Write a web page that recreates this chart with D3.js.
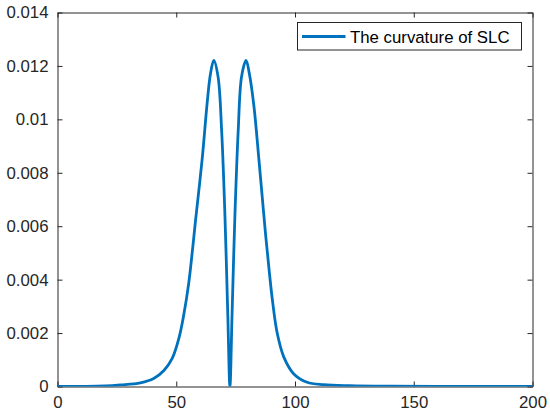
<!DOCTYPE html>
<html>
<head>
<meta charset="utf-8">
<script src="https://cdn.jsdelivr.net/npm/d3@7"></script>
<style>
  html, body { margin: 0; padding: 0; background: #ffffff; }
  svg { display: block; }
</style>
</head>
<body>
<svg id="chart" width="550" height="416"></svg>
<script>
// ---- data ----
const xValues = [0, 10, 20, 26.5, 34.9, 40.5, 44.8, 48.3, 51.1, 53.2, 55.3, 56.7, 58.1, 60.9, 63.0, 64.4, 65.8,
                 67.6, 69.1, 70.5, 71.7, 72.6, 73.5, 74.7, 76.1, 77.5, 79.4, 80.8, 82.7, 84.8, 86.2, 87.6,
                 89.0, 90.4, 92.5, 95.3, 99.5, 105.1, 112.1, 123, 140, 170, 200];
const curvature = [0.000002, 0.000005, 0.00002, 0.00006, 0.00014, 0.0003, 0.0006, 0.00105, 0.0018, 0.0027, 0.0039, 0.0050, 0.0062, 0.0085, 0.0106, 0.0117, 0.01221,
                   0.01160, 0.0096, 0.0064, 0.0027, 0, 0.0027, 0.0064, 0.0096, 0.01160, 0.01221, 0.0117, 0.0105, 0.0085, 0.0071, 0.0057,
                   0.00445, 0.0033, 0.0020, 0.0011, 0.00047, 0.00016, 0.00007, 0.00003, 0.00001, 0.000003, 0.000001];
const xTicks = [0, 50, 100, 150, 200];
const yTicks = [0, 0.002, 0.004, 0.006, 0.008, 0.01, 0.012, 0.014];
const yTickLabels = ["0", "0.002", "0.004", "0.006", "0.008", "0.01", "0.012", "0.014"];
const seriesName = "The curvature of SLC";

// ---- layout ----
const plotLeft = 57.5, plotRight = 532.5, plotTop = 12.5, plotBottom = 386.5;
const axisColor = "#262626";
const lineColor = "#0072BD";
const font = "'Liberation Sans', Arial, Helvetica, sans-serif";
const fontSize = 16.8;
const tickLen = 5;

const svg = d3.select("#chart");
const x = d3.scaleLinear().domain([0, 200]).range([plotLeft, plotRight]);
const y = d3.scaleLinear().domain([0, 0.014]).range([plotBottom, plotTop]);

const data = xValues.map((v, i) => ({ x: v, y: curvature[i] }));

svg.append("defs").append("clipPath").attr("id", "clip")
  .append("rect").attr("x", plotLeft).attr("y", plotTop - 3)
  .attr("width", plotRight - plotLeft).attr("height", plotBottom - plotTop + 3);

const bottomAxis = d3.axisBottom(x).tickValues(xTicks).tickSizeInner(-tickLen).tickSizeOuter(0).tickPadding(10).tickFormat(d3.format("d"));
const topAxis = d3.axisTop(x).tickValues(xTicks).tickSizeInner(-tickLen).tickSizeOuter(0).tickFormat("");
const leftAxis = d3.axisLeft(y).tickValues(yTicks).tickSizeInner(-tickLen).tickSizeOuter(0).tickPadding(9)
  .tickFormat((d, i) => yTickLabels[i]);
const rightAxis = d3.axisRight(y).tickValues(yTicks).tickSizeInner(-tickLen).tickSizeOuter(0).tickFormat("");

function style(g) {
  g.selectAll("path.domain").attr("stroke", axisColor).attr("stroke-width", 1);
  g.selectAll(".tick line").attr("stroke", axisColor).attr("stroke-width", 1);
  g.selectAll(".tick text").attr("fill", axisColor).style("font-family", font).style("font-size", fontSize + "px");
}

svg.append("g").attr("transform", `translate(0,${plotBottom})`).call(bottomAxis).call(style);
svg.append("g").attr("transform", `translate(0,${plotTop})`).call(topAxis).call(style);
svg.append("g").attr("transform", `translate(${plotLeft},0)`).call(leftAxis).call(style);
svg.append("g").attr("transform", `translate(${plotRight},0)`).call(rightAxis).call(style);

const line = d3.line().x(d => x(d.x)).y(d => y(d.y)).curve(d3.curveCatmullRom.alpha(0.5));
svg.append("path").datum(data)
  .attr("clip-path", "url(#clip)")
  .attr("fill", "none")
  .attr("stroke", lineColor)
  .attr("stroke-width", 2.8)
  .attr("stroke-linejoin", "round")
  .attr("d", line);

// legend
const lg = svg.append("g");
lg.append("rect").attr("x", 297.5).attr("y", 22.5).attr("width", 224).attr("height", 27.5)
  .attr("fill", "#ffffff").attr("stroke", axisColor).attr("stroke-width", 1);
lg.append("line").attr("x1", 302).attr("x2", 345.5).attr("y1", 36.5).attr("y2", 36.5)
  .attr("stroke", lineColor).attr("stroke-width", 2.8);
lg.append("text").attr("x", 350).attr("y", 42.5)
  .attr("fill", "#000000").style("font-family", font).style("font-size", fontSize + "px")
  .text(seriesName);
</script>
</body>
</html>
